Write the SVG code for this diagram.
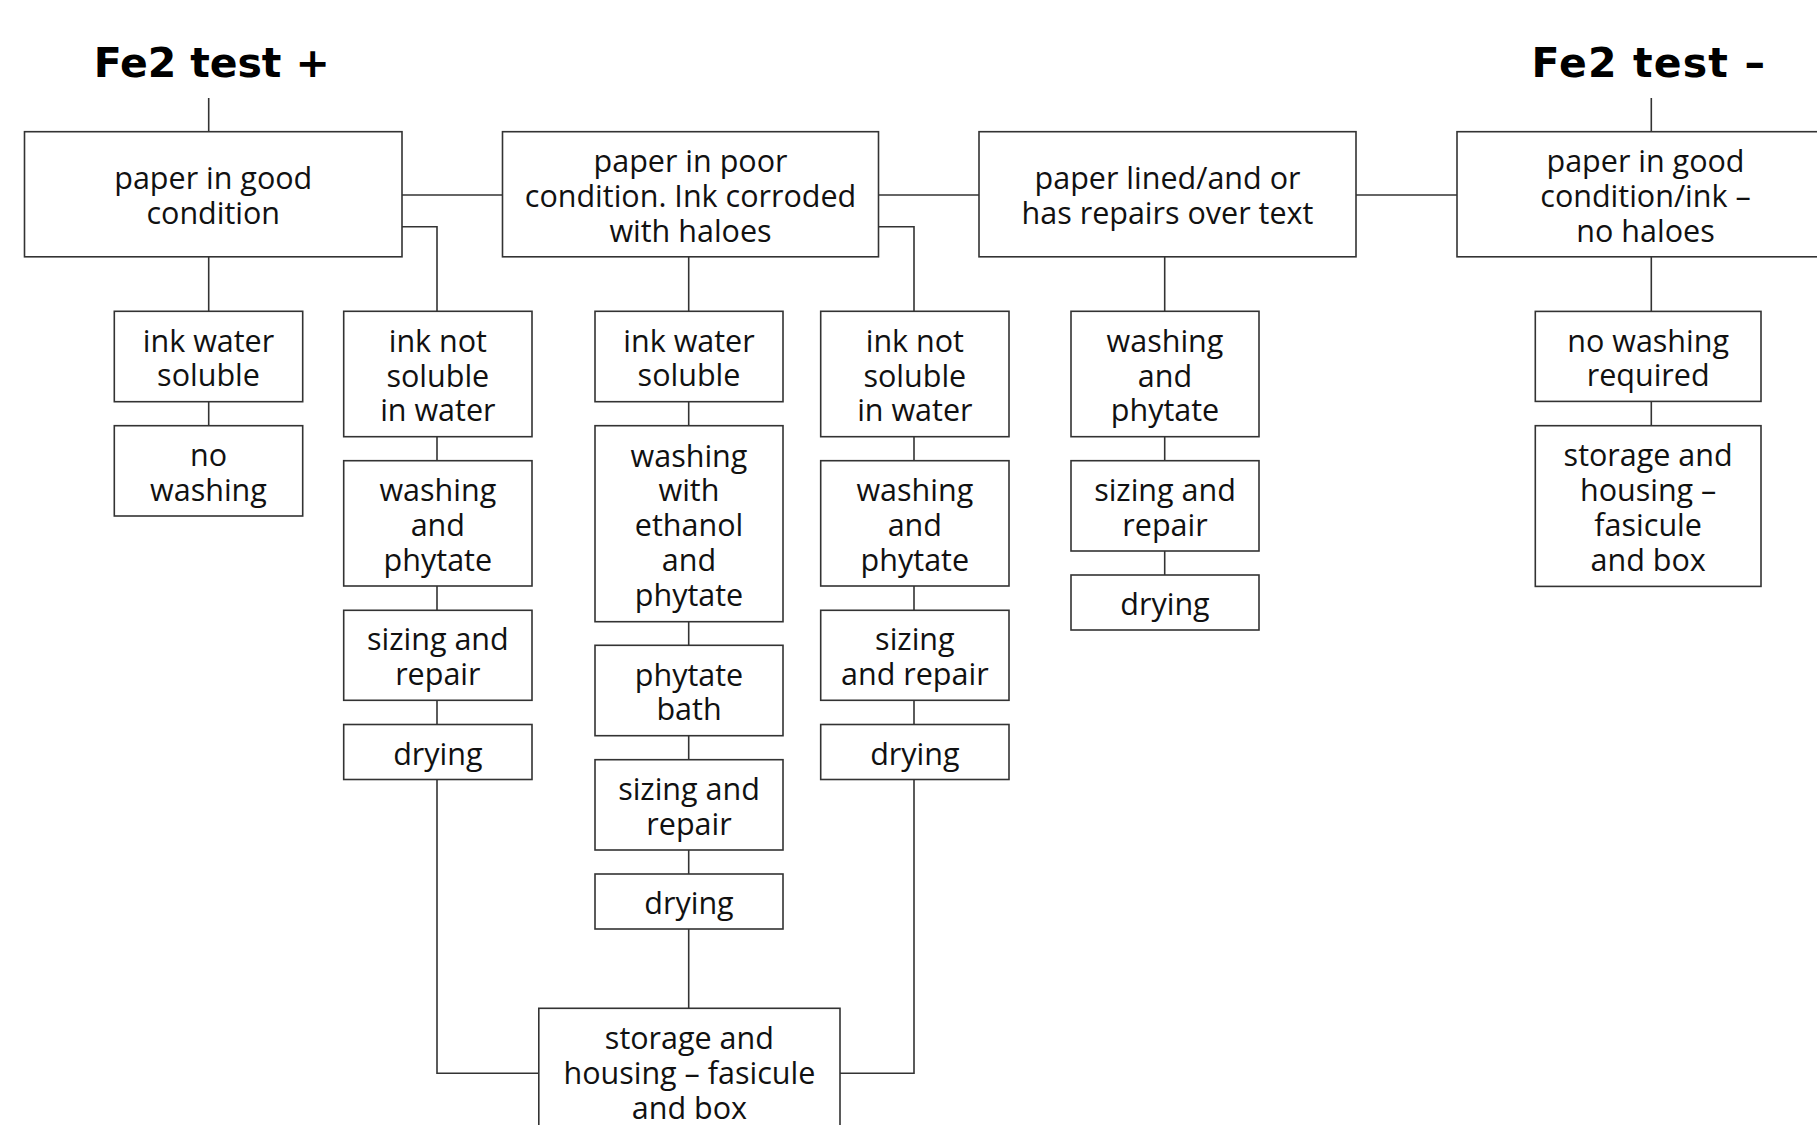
<svg xmlns="http://www.w3.org/2000/svg" width="1817" height="1125" viewBox="0 0 1817 1125">
<style>
  .bg{fill:#ffffff}
  .box{fill:#ffffff;stroke:#333333;stroke-width:1.6}
  .ln{fill:none;stroke:#333333;stroke-width:1.6}
  .t{font-family:"Open Sans","DejaVu Sans",sans-serif;font-size:30.5px;fill:#111111;text-anchor:middle}
  .title{font-family:"DejaVu Sans","Liberation Sans",sans-serif;font-weight:bold;font-size:41px;fill:#000000}
</style>
<rect class="bg" x="0" y="0" width="1817" height="1125"/>

<g id="connectors">
  <line class="ln" x1="208.7" y1="98" x2="208.7" y2="131.7"/>
  <line class="ln" x1="1651.3" y1="98" x2="1651.3" y2="131.7"/>
  <line class="ln" x1="402" y1="195" x2="502.5" y2="195"/>
  <line class="ln" x1="878.5" y1="195" x2="979" y2="195"/>
  <line class="ln" x1="1356" y1="195" x2="1457" y2="195"/>
  <polyline class="ln" points="402,226.7 437,226.7 437,311.3"/>
  <polyline class="ln" points="878.5,226.7 914,226.7 914,311.3"/>
  <line class="ln" x1="208.7" y1="256.8" x2="208.7" y2="311.3"/>
  <line class="ln" x1="208.7" y1="401.7" x2="208.7" y2="425.7"/>
  <line class="ln" x1="688.7" y1="256.8" x2="688.7" y2="311.3"/>
  <line class="ln" x1="688.7" y1="401.7" x2="688.7" y2="425.7"/>
  <line class="ln" x1="688.7" y1="621.7" x2="688.7" y2="645.3"/>
  <line class="ln" x1="688.7" y1="735.7" x2="688.7" y2="759.7"/>
  <line class="ln" x1="688.7" y1="850" x2="688.7" y2="874"/>
  <line class="ln" x1="688.7" y1="929" x2="688.7" y2="1008.3"/>
  <line class="ln" x1="437" y1="436.7" x2="437" y2="460.7"/>
  <line class="ln" x1="437" y1="586" x2="437" y2="610.3"/>
  <line class="ln" x1="437" y1="700.3" x2="437" y2="724.5"/>
  <polyline class="ln" points="437,779.5 437,1073.3 538.8,1073.3"/>
  <line class="ln" x1="914" y1="436.7" x2="914" y2="460.7"/>
  <line class="ln" x1="914" y1="586" x2="914" y2="610.3"/>
  <line class="ln" x1="914" y1="700.3" x2="914" y2="724.5"/>
  <polyline class="ln" points="914,779.5 914,1073.3 840,1073.3"/>
  <line class="ln" x1="1164.7" y1="256.8" x2="1164.7" y2="311.3"/>
  <line class="ln" x1="1164.7" y1="436.7" x2="1164.7" y2="460.7"/>
  <line class="ln" x1="1164.7" y1="551" x2="1164.7" y2="575"/>
  <line class="ln" x1="1651.3" y1="256.8" x2="1651.3" y2="311.4"/>
  <line class="ln" x1="1651.3" y1="401.4" x2="1651.3" y2="425.7"/>
</g>

<g id="title-plus"><text class="title" x="93.8" y="77.3" textLength="236" lengthAdjust="spacing">Fe2 test +</text></g>
<g id="title-minus"><text class="title" x="1531.5" y="77.3" textLength="233.5" lengthAdjust="spacing">Fe2 test –</text></g>

<g id="n-good">
  <rect class="box" x="24.5" y="131.7" width="377.5" height="125.1"/>
  <text class="t"><tspan x="213.25" y="189.35">paper in good</tspan><tspan x="213.25" y="224.15">condition</tspan></text>
</g>
<g id="n-poor">
  <rect class="box" x="502.5" y="131.7" width="376" height="125.1"/>
  <text class="t"><tspan x="690.5" y="171.95">paper in poor</tspan><tspan x="690.5" y="206.75">condition. Ink corroded</tspan><tspan x="690.5" y="241.55">with haloes</tspan></text>
</g>
<g id="n-lined">
  <rect class="box" x="979" y="131.7" width="377" height="125.1"/>
  <text class="t"><tspan x="1167.5" y="189.35">paper lined/and or</tspan><tspan x="1167.5" y="224.15">has repairs over text</tspan></text>
</g>
<g id="n-good-neg">
  <rect class="box" x="1457" y="131.7" width="377" height="125.1"/>
  <text class="t"><tspan x="1645.5" y="171.95">paper in good</tspan><tspan x="1645.5" y="206.75">condition/ink –</tspan><tspan x="1645.5" y="241.55">no haloes</tspan></text>
</g>

<g id="c1-soluble">
  <rect class="box" x="114.3" y="311.3" width="188.4" height="90.4"/>
  <text class="t"><tspan x="208.5" y="351.6">ink water</tspan><tspan x="208.5" y="386.4">soluble</tspan></text>
</g>
<g id="c1-nowash">
  <rect class="box" x="114.3" y="425.7" width="188.4" height="90.3"/>
  <text class="t"><tspan x="208.5" y="465.95">no</tspan><tspan x="208.5" y="500.75">washing</tspan></text>
</g>

<g id="c2-notsoluble">
  <rect class="box" x="343.7" y="311.3" width="188.3" height="125.4"/>
  <text class="t"><tspan x="437.85" y="351.7">ink not</tspan><tspan x="437.85" y="386.5">soluble</tspan><tspan x="437.85" y="421.3">in water</tspan></text>
</g>
<g id="c2-washing">
  <rect class="box" x="343.7" y="460.7" width="188.3" height="125.3"/>
  <text class="t"><tspan x="437.85" y="501.05">washing</tspan><tspan x="437.85" y="535.85">and</tspan><tspan x="437.85" y="570.65">phytate</tspan></text>
</g>
<g id="c2-sizing">
  <rect class="box" x="343.7" y="610.3" width="188.3" height="90"/>
  <text class="t"><tspan x="437.85" y="650.4">sizing and</tspan><tspan x="437.85" y="685.2">repair</tspan></text>
</g>
<g id="c2-drying">
  <rect class="box" x="343.7" y="724.5" width="188.3" height="55"/>
  <text class="t" x="437.85" y="764.5">drying</text>
</g>

<g id="c3-soluble">
  <rect class="box" x="595" y="311.3" width="188" height="90.4"/>
  <text class="t"><tspan x="689" y="351.6">ink water</tspan><tspan x="689" y="386.4">soluble</tspan></text>
</g>
<g id="c3-ethanol">
  <rect class="box" x="595" y="425.7" width="188" height="196"/>
  <text class="t"><tspan x="689" y="466.6">washing</tspan><tspan x="689" y="501.4">with</tspan><tspan x="689" y="536.2">ethanol</tspan><tspan x="689" y="571">and</tspan><tspan x="689" y="605.8">phytate</tspan></text>
</g>
<g id="c3-bath">
  <rect class="box" x="595" y="645.3" width="188" height="90.4"/>
  <text class="t"><tspan x="689" y="685.6">phytate</tspan><tspan x="689" y="720.4">bath</tspan></text>
</g>
<g id="c3-sizing">
  <rect class="box" x="595" y="759.7" width="188" height="90.3"/>
  <text class="t"><tspan x="689" y="799.95">sizing and</tspan><tspan x="689" y="834.75">repair</tspan></text>
</g>
<g id="c3-drying">
  <rect class="box" x="595" y="874" width="188" height="55"/>
  <text class="t" x="689" y="914">drying</text>
</g>

<g id="c4-notsoluble">
  <rect class="box" x="820.7" y="311.3" width="188.3" height="125.4"/>
  <text class="t"><tspan x="914.85" y="351.7">ink not</tspan><tspan x="914.85" y="386.5">soluble</tspan><tspan x="914.85" y="421.3">in water</tspan></text>
</g>
<g id="c4-washing">
  <rect class="box" x="820.7" y="460.7" width="188.3" height="125.3"/>
  <text class="t"><tspan x="914.85" y="501.05">washing</tspan><tspan x="914.85" y="535.85">and</tspan><tspan x="914.85" y="570.65">phytate</tspan></text>
</g>
<g id="c4-sizing">
  <rect class="box" x="820.7" y="610.3" width="188.3" height="90"/>
  <text class="t"><tspan x="914.85" y="650.4">sizing</tspan><tspan x="914.85" y="685.2">and repair</tspan></text>
</g>
<g id="c4-drying">
  <rect class="box" x="820.7" y="724.5" width="188.3" height="55"/>
  <text class="t" x="914.85" y="764.5">drying</text>
</g>

<g id="c5-washing">
  <rect class="box" x="1071" y="311.3" width="188" height="125.4"/>
  <text class="t"><tspan x="1165" y="351.7">washing</tspan><tspan x="1165" y="386.5">and</tspan><tspan x="1165" y="421.3">phytate</tspan></text>
</g>
<g id="c5-sizing">
  <rect class="box" x="1071" y="460.7" width="188" height="90.3"/>
  <text class="t"><tspan x="1165" y="500.95">sizing and</tspan><tspan x="1165" y="535.75">repair</tspan></text>
</g>
<g id="c5-drying">
  <rect class="box" x="1071" y="575" width="188" height="55"/>
  <text class="t" x="1165" y="615">drying</text>
</g>

<g id="c6-nowash">
  <rect class="box" x="1535.3" y="311.4" width="225.7" height="90"/>
  <text class="t"><tspan x="1648.15" y="351.5">no washing</tspan><tspan x="1648.15" y="386.3">required</tspan></text>
</g>
<g id="c6-storage">
  <rect class="box" x="1535.3" y="425.7" width="225.7" height="160.7"/>
  <text class="t"><tspan x="1648.15" y="466.3">storage and</tspan><tspan x="1648.15" y="501.1">housing –</tspan><tspan x="1648.15" y="535.9">fasicule</tspan><tspan x="1648.15" y="570.7">and box</tspan></text>
</g>

<g id="n-storage">
  <rect class="box" x="538.8" y="1008.3" width="301.2" height="126"/>
  <text class="t"><tspan x="689.4" y="1049">storage and</tspan><tspan x="689.4" y="1083.8">housing – fasicule</tspan><tspan x="689.4" y="1118.6">and box</tspan></text>
</g>
</svg>
